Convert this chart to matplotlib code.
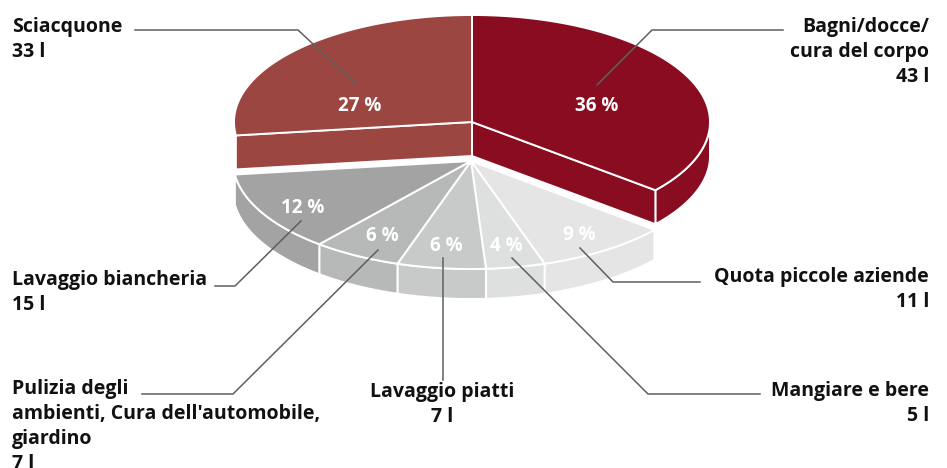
import matplotlib
matplotlib.use("Agg")
import matplotlib.pyplot as plt
from matplotlib.patches import Polygon
import numpy as np

plt.rcParams['font.family'] = ['Open Sans', 'DejaVu Sans']

# clockwise from 12 o'clock
percents = [36, 9, 4, 6, 6, 12, 27]
percent_labels = ['36 %', '9 %', '4 %', '6 %', '6 %', '12 %', '27 %']
colors = ['#8a0c20', '#e5e5e5', '#dedfdf', '#c8caca', '#b7b8b8', '#a3a3a3', '#9c4642']
raised = [True, False, False, False, False, False, True]
categories = ['Bagni/docce/\ncura del corpo\n43 l', 'Quota piccole aziende\n11 l',
              'Mangiare e bere\n5 l', 'Lavaggio piatti\n7 l',
              "Pulizia degli\nambienti, Cura dell'automobile,\ngiardino\n7 l",
              'Lavaggio biancheria\n15 l', 'Sciacquone\n33 l']

# layout, in reference pixels
upper = dict(cx=472, cy=122, a=238, b=107, depth=34)
lower = dict(cx=471, cy=161, a=238, b=108, depth=30)
percent_pos = [(597, 106), (579, 235), (506, 246), (446, 246), (382, 236), (303, 208), (360, 106)]
label_pos = [(929, 17, 'right'), (929, 267, 'right'), (929, 381, 'right'), (442, 382, 'center'),
             (12, 379, 'left'), (12, 270, 'left'), (12, 17, 'left')]
leaders = [[(597, 85), (652, 30), (783, 30)],
           [(580, 248), (613, 282), (700, 282)],
           [(512, 258), (648, 394), (760, 394)],
           [(443, 258), (443, 380)],
           [(378, 250), (233, 394), (142, 394)],
           [(301, 221), (235, 286), (215, 286)],
           [(357, 85), (298, 30), (135, 30)]]


def arc(g, start, end, dy=0):
    t = np.radians(np.linspace(start, end, 80))
    return np.column_stack([g['cx'] + g['a'] * np.sin(t), g['cy'] - g['b'] * np.cos(t) + dy])


def shape(ax, pts, color, z):
    ax.add_patch(Polygon(pts, closed=True, facecolor=color, edgecolor='white', linewidth=1.4, zorder=z))


fig = plt.figure(figsize=(9.47, 4.68), dpi=100)
ax = fig.add_axes([0, 0, 1, 1])
ax.set_xlim(0, 947)
ax.set_ylim(468, 0)
ax.axis('off')

edges = np.cumsum([0] + percents) * 3.6

for i in range(len(percents)):
    start, end = edges[i], edges[i + 1]
    g = upper if raised[i] else lower
    z = 5 if raised[i] else 1
    apex = [[g['cx'], g['cy']]]
    # outer wall, only the part facing the viewer
    s, e = max(start, 90), min(end, 270)
    if s < e:
        shape(ax, np.vstack([arc(g, s, e), arc(g, s, e, g['depth'])[::-1]]), colors[i], z)
    if raised[i]:
        # cut faces of the pulled out slices
        cut = end if i == 0 else start
        rim = arc(g, cut, cut)[0]
        shape(ax, [apex[0], rim, rim + [0, g['depth']], [g['cx'], g['cy'] + g['depth']]], colors[i], z)
    shape(ax, np.vstack([apex, arc(g, start, end)]), colors[i], z + 1)

for pts in leaders:
    xs, ys = zip(*pts)
    ax.plot(xs, ys, color='#5f5f5f', lw=1.1, zorder=8, solid_joinstyle='miter')

for label, (x, y) in zip(percent_labels, percent_pos):
    ax.text(x, y, label, color='white', fontsize=13.5, fontweight='bold', ha='center', va='center', zorder=9)

for label, (x, y, ha) in zip(categories, label_pos):
    ax.text(x, y, label, color='#111111', fontsize=14, fontweight='bold', ha=ha, va='top',
            multialignment=ha, linespacing=1.33, zorder=9)

fig.savefig('out.png', dpi=100)
